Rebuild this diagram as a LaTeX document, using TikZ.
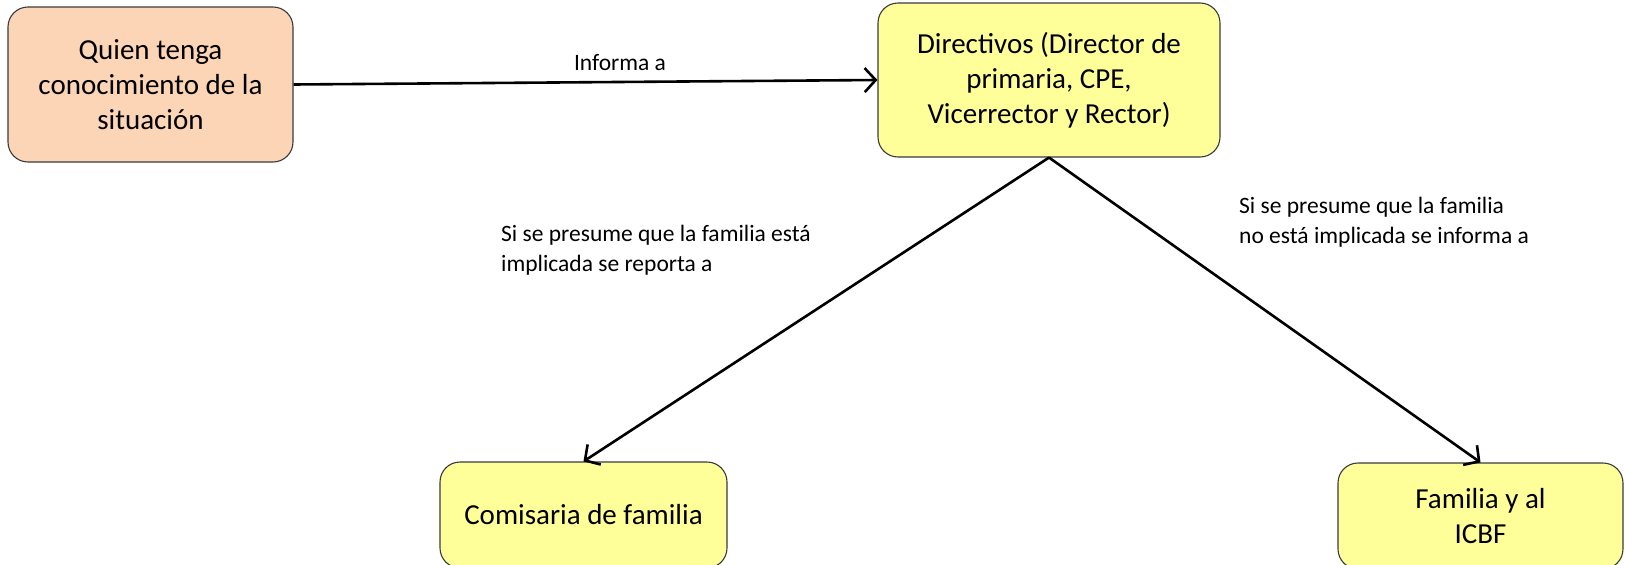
\documentclass[tikz,border=0pt]{standalone}
\usepackage{fontspec}
\setmainfont{Carlito}
\usetikzlibrary{arrows.meta}
\definecolor{boxorange}{HTML}{FBD5B5}
\definecolor{boxyellow}{HTML}{FFFF99}
\definecolor{boxline}{HTML}{3A3A3A}
\tikzset{
  x=1pt, y=-1pt,
  box/.style={draw=boxline, line width=1.1pt, rounded corners=20pt, align=center,
    inner sep=0pt, font=\fontsize{29}{35}\selectfont},
  conn/.style={line width=2.6pt, -{Straight Barb[length=11pt,width=24pt,line width=2.6pt]}},
  lbl/.style={inner sep=0pt, align=left, font=\fontsize{23.5}{29.5}\selectfont}
}
\begin{document}
\begin{tikzpicture}
\useasboundingbox (0,0) rectangle (1626,565);
\node[box, fill=boxorange, minimum width=285pt, minimum height=155pt] (b1) at (150.5,84.5)
  {Quien tenga\\conocimiento de la\\situación};
\node[box, fill=boxyellow, minimum width=342pt, minimum height=154pt] (b2) at (1049,80)
  {Directivos (Director de\\primaria, CPE,\\Vicerrector y Rector)};
\node[box, fill=boxyellow, minimum width=287pt, minimum height=106pt] (b3) at (583.5,515)
  {Comisaria de familia};
\node[box, fill=boxyellow, minimum width=285pt, minimum height=106pt] (b4) at (1480.5,516)
  {Familia y al\\ICBF};
\draw[conn] (b1.east) -- (b2.west);
\draw[conn] (b2.south) -- (b3.north);
\draw[conn] (b2.south) -- (b4.north);
\node[lbl] (l1) at (620,63) {Informa a};
\node[lbl, anchor=west] (l2) at (501,250) {Si se presume que la familia está\\implicada se reporta a};
\node[lbl, anchor=west] (l3) at (1239,222) {Si se presume que la familia\\no está implicada se informa a};
\end{tikzpicture}
\end{document}
